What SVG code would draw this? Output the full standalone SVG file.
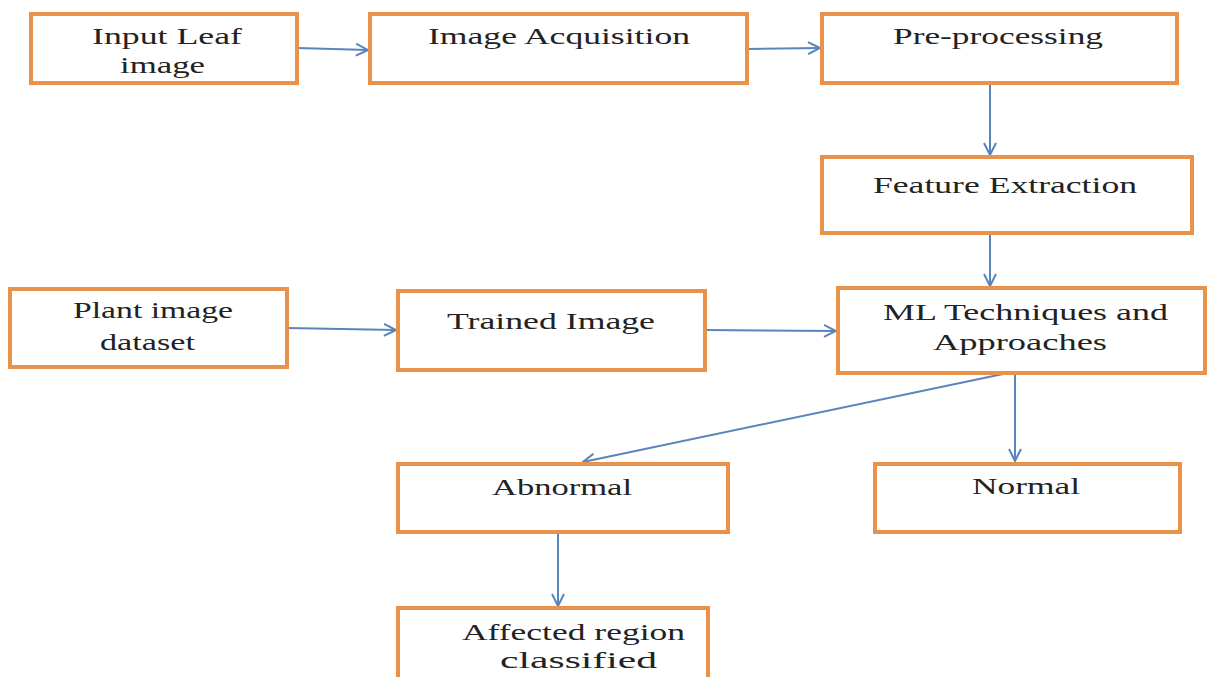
<svg xmlns="http://www.w3.org/2000/svg" width="1209" height="677" viewBox="0 0 1209 677">
<defs>
<style>
.box{fill:#fff;stroke:#E8924A;stroke-width:4}
.lbl{font-family:"Liberation Serif",serif;font-size:23px;fill:#222}
.edge{stroke:#5B84BE;stroke-width:2;fill:none;marker-end:url(#ah)}
</style>
<marker id="ah" viewBox="0 0 14 14" refX="13" refY="7" markerWidth="14" markerHeight="14" markerUnits="userSpaceOnUse" orient="auto">
<path d="M1,1 L13,7 L1,13" fill="none" stroke="#5B84BE" stroke-width="2"/>
</marker>
</defs>
<rect width="1209" height="677" fill="#fff"/>
<g id="connectors">
<line class="edge" x1="297" y1="48" x2="368" y2="50"/>
<line class="edge" x1="747" y1="49" x2="820" y2="48"/>
<line class="edge" x1="990" y1="83" x2="990" y2="155"/>
<line class="edge" x1="990" y1="233" x2="990" y2="286"/>
<line class="edge" x1="287" y1="328" x2="396" y2="330"/>
<line class="edge" x1="705" y1="330" x2="836" y2="331"/>
<line class="edge" x1="1003" y1="374" x2="583" y2="462"/>
<line class="edge" x1="1015" y1="374" x2="1015" y2="461"/>
<line class="edge" x1="558" y1="532" x2="558" y2="606"/>
</g>
<g id="n1"><rect class="box" x="31" y="14" width="266" height="69"/>
<text class="lbl" x="92" y="44" textLength="150" lengthAdjust="spacingAndGlyphs">Input Leaf</text>
<text class="lbl" x="120" y="73" textLength="85" lengthAdjust="spacingAndGlyphs">image</text></g>
<g id="n2"><rect class="box" x="370" y="14" width="377" height="69"/>
<text class="lbl" x="428" y="44" textLength="262" lengthAdjust="spacingAndGlyphs">Image Acquisition</text></g>
<g id="n3"><rect class="box" x="822" y="14" width="355" height="69"/>
<text class="lbl" x="893" y="44" textLength="210" lengthAdjust="spacingAndGlyphs">Pre-processing</text></g>
<g id="n4"><rect class="box" x="822" y="157" width="370" height="76"/>
<text class="lbl" x="873" y="193" textLength="264" lengthAdjust="spacingAndGlyphs">Feature Extraction</text></g>
<g id="n5"><rect class="box" x="10" y="289" width="277" height="78"/>
<text class="lbl" x="73" y="318" textLength="160" lengthAdjust="spacingAndGlyphs">Plant image</text>
<text class="lbl" x="100" y="350" textLength="95" lengthAdjust="spacingAndGlyphs">dataset</text></g>
<g id="n6"><rect class="box" x="398" y="291" width="307" height="79"/>
<text class="lbl" x="447" y="329" textLength="208" lengthAdjust="spacingAndGlyphs">Trained Image</text></g>
<g id="n7"><rect class="box" x="838" y="288" width="367" height="85"/>
<text class="lbl" x="883" y="320" textLength="285" lengthAdjust="spacingAndGlyphs">ML Techniques and</text>
<text class="lbl" x="933" y="350" textLength="174" lengthAdjust="spacingAndGlyphs">Approaches</text></g>
<g id="n8"><rect class="box" x="398" y="464" width="330" height="68"/>
<text class="lbl" x="492" y="495" textLength="140" lengthAdjust="spacingAndGlyphs">Abnormal</text></g>
<g id="n9"><rect class="box" x="875" y="464" width="305" height="68"/>
<text class="lbl" x="972" y="494" textLength="108" lengthAdjust="spacingAndGlyphs">Normal</text></g>
<g id="n10"><rect class="box" x="398" y="608" width="310" height="80"/>
<text class="lbl" x="462" y="640" textLength="223" lengthAdjust="spacingAndGlyphs">Affected region</text>
<text class="lbl" x="500" y="668" textLength="157" lengthAdjust="spacingAndGlyphs">classified</text></g>
</svg>
